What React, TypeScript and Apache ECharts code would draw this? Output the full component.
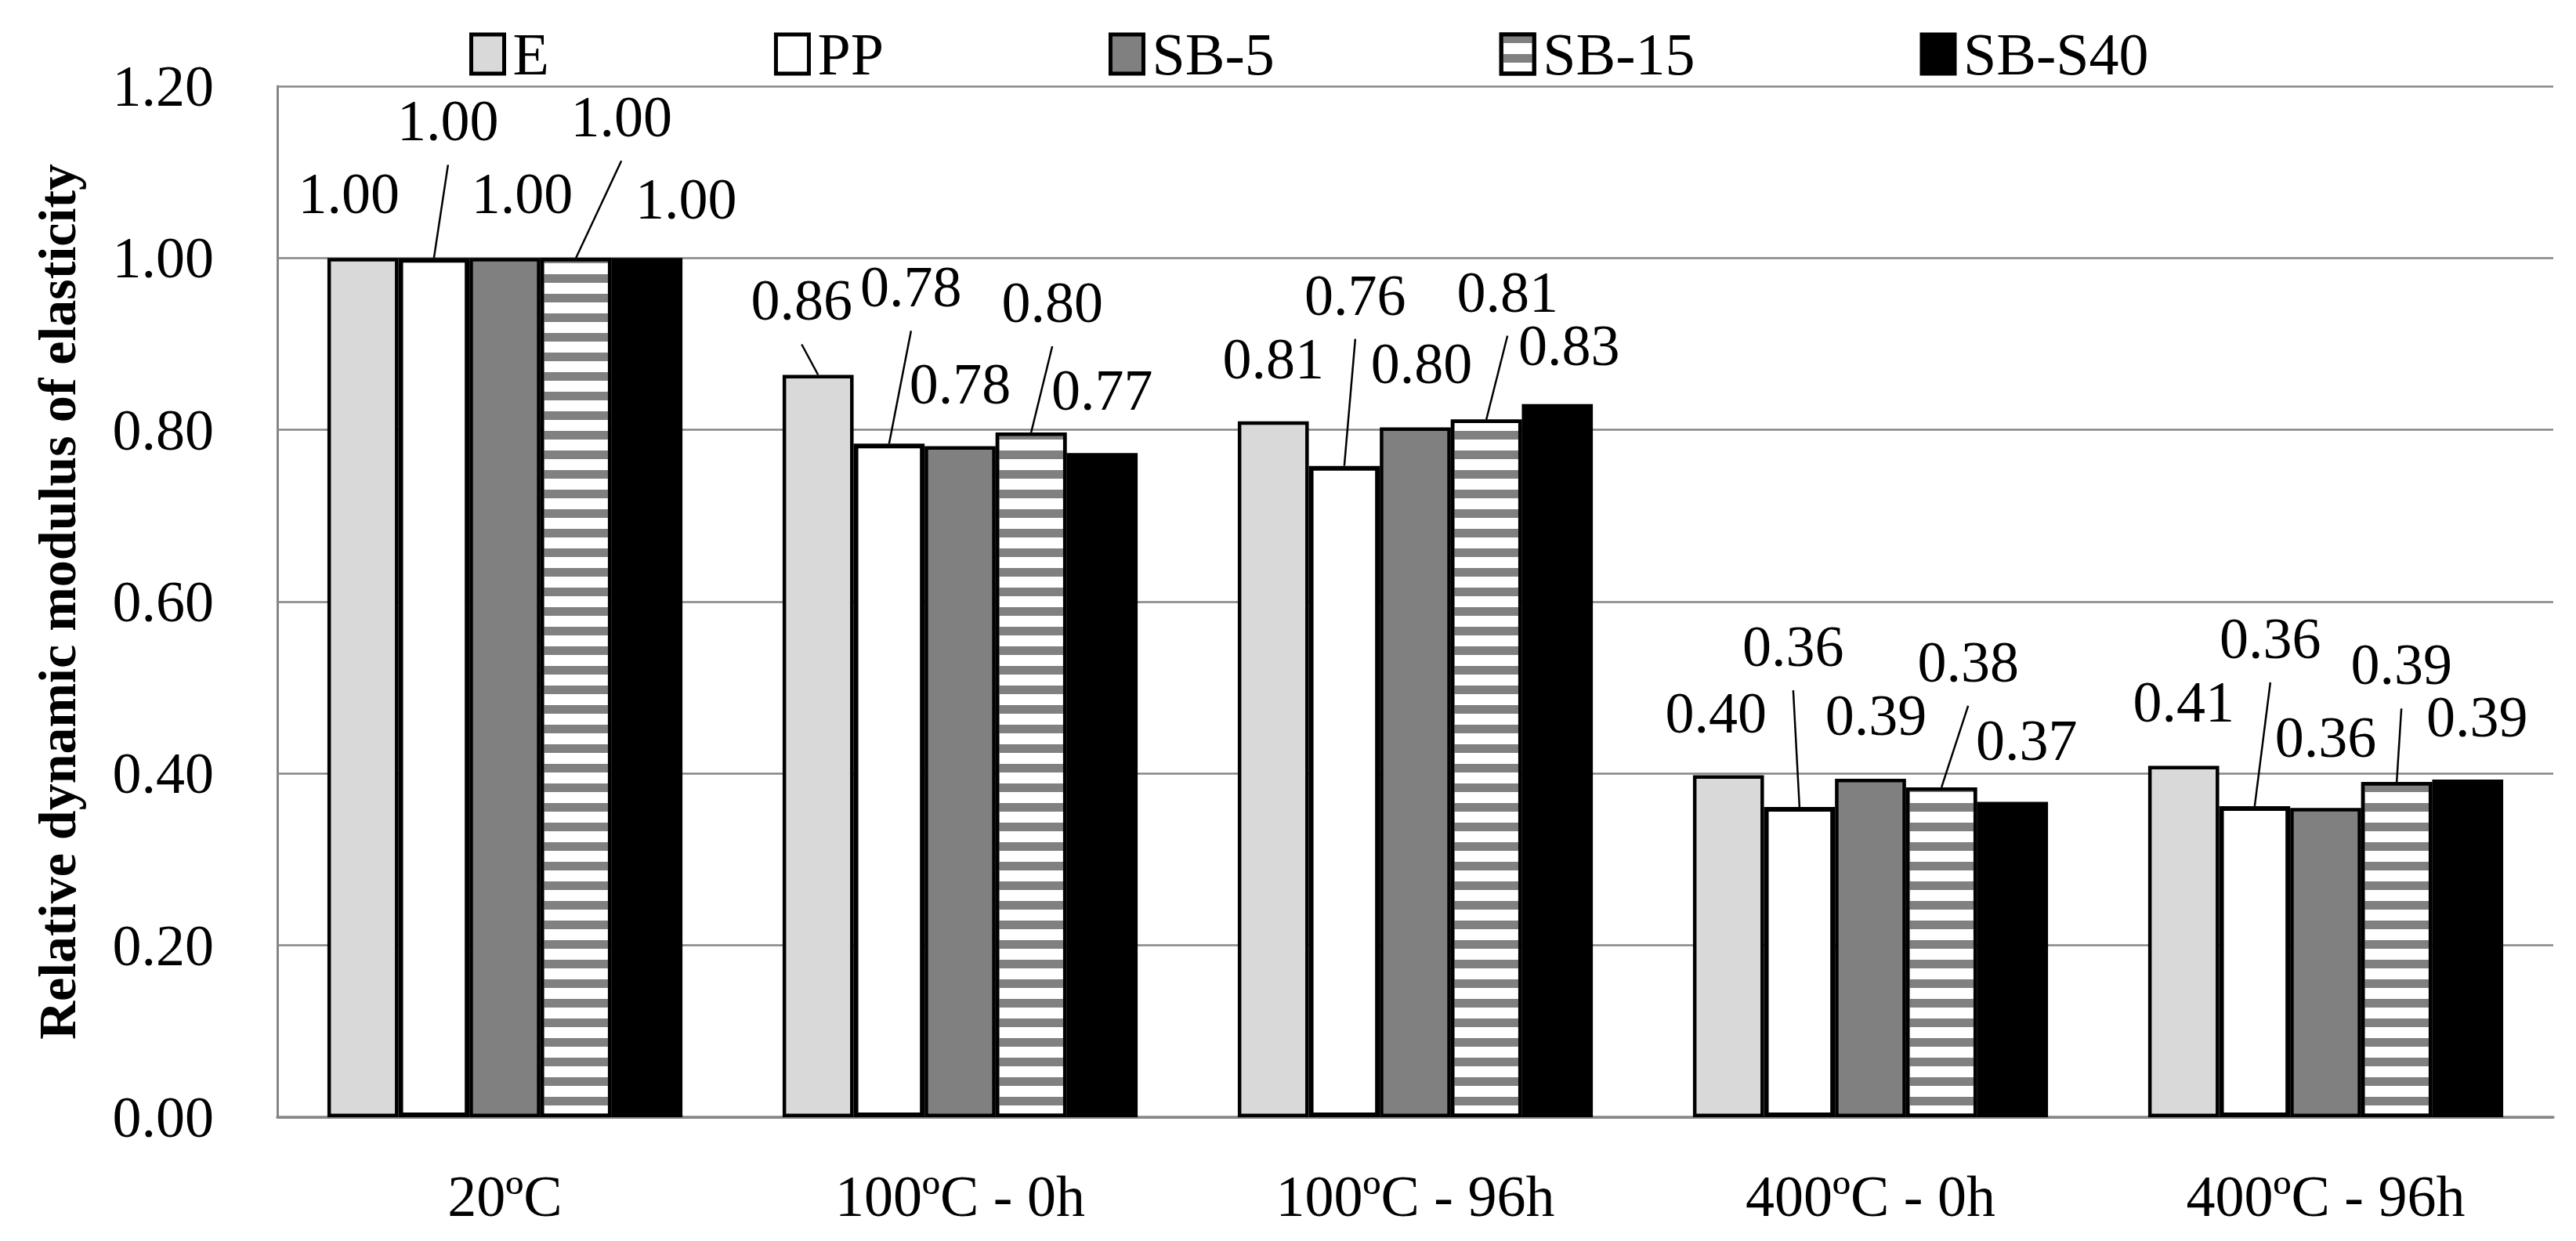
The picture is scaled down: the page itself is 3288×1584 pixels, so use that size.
import { useEffect, useRef } from "react";
import * as echarts from "echarts";

const categories = ["20ºC", "100ºC - 0h", "100ºC - 96h", "400ºC - 0h", "400ºC - 96h"];
const seriesNames = ["E", "PP", "SB-5", "SB-15", "SB-S40"];

// relative dynamic modulus, one array per mix
const valuesE = [1.0, 0.864, 0.81, 0.398, 0.409];
const valuesPP = [1.0, 0.784, 0.758, 0.361, 0.362];
const valuesSB5 = [1.0, 0.781, 0.803, 0.394, 0.36];
const valuesSB15 = [1.0, 0.797, 0.812, 0.384, 0.39];
const valuesSB40 = [1.0, 0.773, 0.83, 0.367, 0.393];

const yTicks = [0, 0.2, 0.4, 0.6, 0.8, 1.0, 1.2];

// label nudges [dx, dy] as Excel left them, and which ones have leader lines
const shiftE = [[-18, -40], [-21, -53], [0, -38], [-16, -38], [0, -39]];
const shiftPP = [[18, -133], [28, -158], [14, -176], [-8, -163], [20, -172]];
const shiftSB5 = [[22, -40], [0, -38], [8, -39], [7, -39], [0, -48]];
const shiftSB15 = [[58, -138], [27, -124], [27, -121], [34, -118], [6, -108]];
const shiftSB40 = [[50, -33], [0, -38], [15, -33], [18, -37], [12, -38]];
const leaderE = [false, true, false, false, false];
const leaderAll = [true, true, true, true, true];
const leaderNone = [false, false, false, false, false];

const FONT = "Liberation Serif";
const GRID_GRAY = "#868686";
const CAT_GAP = 0.22;

const allValues = [valuesE, valuesPP, valuesSB5, valuesSB15, valuesSB40];
const allShifts = [shiftE, shiftPP, shiftSB5, shiftSB15, shiftSB40];
const allLeaders = [leaderE, leaderAll, leaderNone, leaderAll, leaderNone];

function barSeries(name: string, values: number[], shifts: number[][], itemStyle: any) {
  return {
    name,
    type: "bar",
    data: values,
    barGap: "0%",
    barCategoryGap: CAT_GAP * 100 + "%",
    itemStyle,
    label: {
      show: true,
      position: "top",
      distance: 5,
      color: "#000",
      fontFamily: FONT,
      fontSize: 74,
      formatter: (p: any) => Number(p.value).toFixed(2),
    },
    labelLayout: (p: any) => ({ dx: shifts[p.dataIndex][0], dy: shifts[p.dataIndex][1] }),
  };
}

// leader lines: from the bar's top centre to just under its moved label
function leaderData() {
  const rows: number[][] = [];
  allValues.forEach((vals, s) => {
    vals.forEach((v, i) => {
      if (allLeaders[s][i]) rows.push([i, v, s, allShifts[s][i][0], allShifts[s][i][1]]);
    });
  });
  return rows;
}

export default function App() {
  const ref = useRef<HTMLDivElement>(null);
  useEffect(() => {
    document.body.style.margin = "0";
    if (!ref.current) return;
    const chart = echarts.init(ref.current, undefined, { renderer: "svg" });
    const n = seriesNames.length;
    const option = {
      animation: false,
      backgroundColor: "#fff",
      textStyle: { fontFamily: FONT },
      legend: {
        data: seriesNames,
        left: 594,
        top: 26,
        icon: "rect",
        itemWidth: 42,
        itemHeight: 50,
        itemGap: 287,
        textStyle: { color: "#000", fontFamily: FONT, fontSize: 76, padding: [0, 0, 0, 6] },
        itemStyle: { borderColor: "#000", borderWidth: 5 },
      },
      grid: { left: 354, right: 29, top: 110, bottom: 158, containLabel: false },
      xAxis: {
        type: "category",
        data: categories,
        axisLine: { show: true, lineStyle: { color: GRID_GRAY, width: 3.5 } },
        axisTick: { show: false },
        axisLabel: { color: "#000", fontFamily: FONT, fontSize: 74, margin: 64 },
      },
      yAxis: {
        type: "value",
        min: yTicks[0],
        max: yTicks[yTicks.length - 1],
        interval: 0.2,
        name: "Relative dynamic modulus of elasticity",
        nameLocation: "middle",
        nameGap: 247,
        nameTextStyle: { color: "#000", fontFamily: FONT, fontSize: 68, fontWeight: "bold" },
        axisLine: { show: true, lineStyle: { color: GRID_GRAY, width: 3 } },
        axisTick: { show: false },
        axisLabel: {
          color: "#000",
          fontFamily: FONT,
          fontSize: 74,
          margin: 81,
          formatter: (v: number) => v.toFixed(2),
        },
        splitLine: { show: true, lineStyle: { color: GRID_GRAY, width: 2.5 } },
      },
      series: [
        barSeries("E", valuesE, shiftE, {
          color: "#d9d9d9",
          borderColor: "#000",
          borderWidth: 4.5,
        }),
        barSeries("PP", valuesPP, shiftPP, {
          color: "#fff",
          borderColor: "#000",
          borderWidth: 6,
        }),
        barSeries("SB-5", valuesSB5, shiftSB5, {
          color: "#808080",
          borderColor: "#000",
          borderWidth: 4.5,
        }),
        barSeries("SB-15", valuesSB15, shiftSB15, {
          color: "#fff",
          borderColor: "#000",
          borderWidth: 4.5,
          decal: {
            symbol: "rect",
            symbolSize: 1,
            dashArrayX: [1, 0],
            dashArrayY: [11, 14],
            rotation: 0,
            color: "#808080",
          },
        }),
        barSeries("SB-S40", valuesSB40, shiftSB40, {
          color: "#000",
          borderColor: "#000",
          borderWidth: 4.5,
        }),
        {
          name: "leaders",
          type: "custom",
          silent: true,
          z: 5,
          data: leaderData(),
          encode: { x: 0, y: 1 },
          renderItem: (_params: any, api: any) => {
            const cat = api.value(0);
            const v = api.value(1);
            const s = api.value(2);
            const dx = api.value(3);
            const dy = api.value(4);
            const p = api.coord([cat, v]);
            const bandW = api.size([1, 0])[0];
            const barW = (bandW * (1 - CAT_GAP)) / n;
            const x0 = p[0] + (s - (n - 1) / 2) * barW;
            return {
              type: "line",
              shape: { x1: x0, y1: p[1], x2: x0 + dx, y2: p[1] + dy + 14 },
              style: { stroke: "#000", lineWidth: 2.5 },
            };
          },
        },
      ],
    } as any;
    chart.setOption(option);
    const onResize = () => chart.resize();
    window.addEventListener("resize", onResize);
    return () => {
      window.removeEventListener("resize", onResize);
      chart.dispose();
    };
  }, []);
  return <div ref={ref} style={{ width: 3288, height: 1584 }} aria-label="Relative dynamic modulus bar chart" />;
}
